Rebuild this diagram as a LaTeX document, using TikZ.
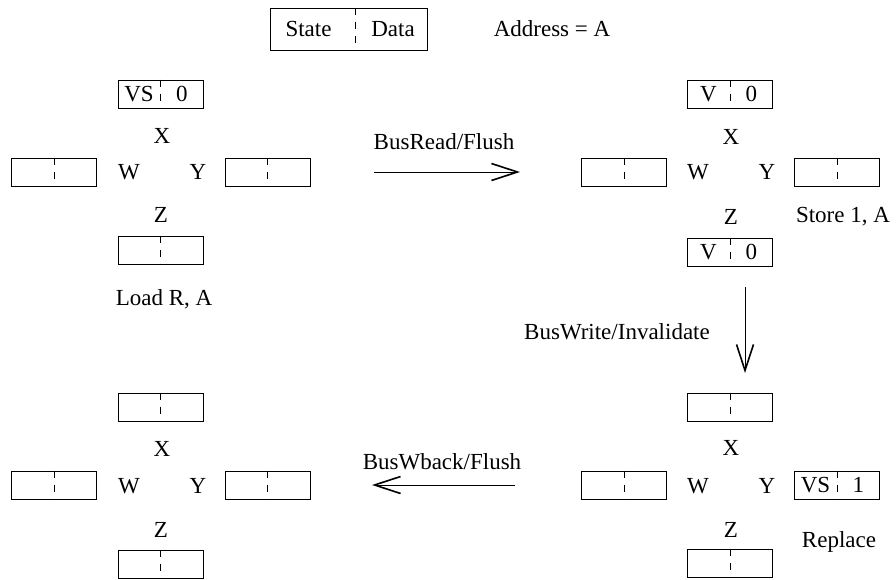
\documentclass[tikz,border=0pt]{standalone}
\usepackage{fontspec}
\setmainfont{Liberation Serif}
\usetikzlibrary{calc,arrows.meta}
\newcommand{\cachecell}[4]{%
  \node[cellbox] (#1) at (#2) {};
  \draw[divider] (#1.north) -- (#1.south);
  \node[lbl] (#1-s) at ($(#1.center)!0.5!(#1.west)$) {#3};
  \node[lbl] (#1-d) at ($(#1.center)!0.5!(#1.east)$) {#4};
}
\begin{document}
\begin{tikzpicture}[x=1pt,y=-1pt,
  cellbox/.style={draw, line width=0.9pt, minimum width=85pt, minimum height=28pt, inner sep=0pt},
  divider/.style={dash pattern=on 7pt off 7pt, line width=0.8pt},
  lbl/.style={font=\fontsize{23}{27}\selectfont, inner sep=0pt},
  arr/.style={line width=0.9pt, -{Straight Barb[length=26pt,width=17pt,line width=1.6pt]}}]
\useasboundingbox (0,0) rectangle (896,579);

% legend
\node[draw, line width=0.9pt, minimum width=157pt, minimum height=42pt, inner sep=0pt] (lg) at (348.5,29) {};
\draw[divider] ($(lg.north west)+(86,0)$) -- ($(lg.south west)+(86,0)$);
\node[lbl] (lgs) at (308.5,29) {State};
\node[lbl] (lgd) at (393,29) {Data};
\node[lbl] (addr) at (552,29) {Address = A};

% top-left cluster
\cachecell{tlx}{160.5,94}{VS}{0}
\cachecell{tlw}{54,172}{}{}
\cachecell{tly}{267.5,172}{}{}
\cachecell{tlz}{160.5,250}{}{}
\node[lbl] (tlX) at (162,136) {X};
\node[lbl] (tlW) at (129,172) {W};
\node[lbl] (tlY) at (198,172) {Y};
\node[lbl] (tlZ) at (161,215) {Z};
\node[lbl] (load) at (164,299) {Load R, A};

% top-right cluster
\cachecell{trx}{730,94}{V}{0}
\cachecell{trw}{624,172}{}{}
\cachecell{try}{837,172}{}{}
\cachecell{trz}{730,252}{V}{0}
\node[lbl] (trX) at (731,137) {X};
\node[lbl] (trW) at (698,172) {W};
\node[lbl] (trY) at (767,172) {Y};
\node[lbl] (trZ) at (731,217) {Z};
\node[lbl] (store) at (843,217) {Store 1, A};

% bottom-right cluster
\cachecell{brx}{730,407}{}{}
\cachecell{brw}{624,485}{}{}
\cachecell{bry}{837,485}{VS}{1}
\cachecell{brz}{730,563}{}{}
\node[lbl] (brX) at (731,448) {X};
\node[lbl] (brW) at (698,486) {W};
\node[lbl] (brY) at (767,486) {Y};
\node[lbl] (brZ) at (731,530) {Z};
\node[lbl] (repl) at (839,542) {Replace};

% bottom-left cluster
\cachecell{blx}{160.5,407}{}{}
\cachecell{blw}{54,485}{}{}
\cachecell{bly}{267.5,485}{}{}
\cachecell{blz}{160.5,564}{}{}
\node[lbl] (blX) at (162,449) {X};
\node[lbl] (blW) at (129,486) {W};
\node[lbl] (blY) at (198,486) {Y};
\node[lbl] (blZ) at (161,530) {Z};

% transitions
\coordinate (a1s) at (374,172);
\coordinate (a1e) at (520,172);
\draw[arr] (a1s) -- (a1e);
\node[lbl] (a1l) at (444,142) {BusRead/Flush};

\coordinate (a2s) at (745,287);
\coordinate (a2e) at (745,373);
\draw[arr] (a2s) -- (a2e);
\node[lbl] (a2l) at (617,332) {BusWrite/Invalidate};

\coordinate (a3s) at (515,485);
\coordinate (a3e) at (372,485);
\draw[arr] (a3s) -- (a3e);
\node[lbl] (a3l) at (442,462) {BusWback/Flush};
\end{tikzpicture}
\end{document}
